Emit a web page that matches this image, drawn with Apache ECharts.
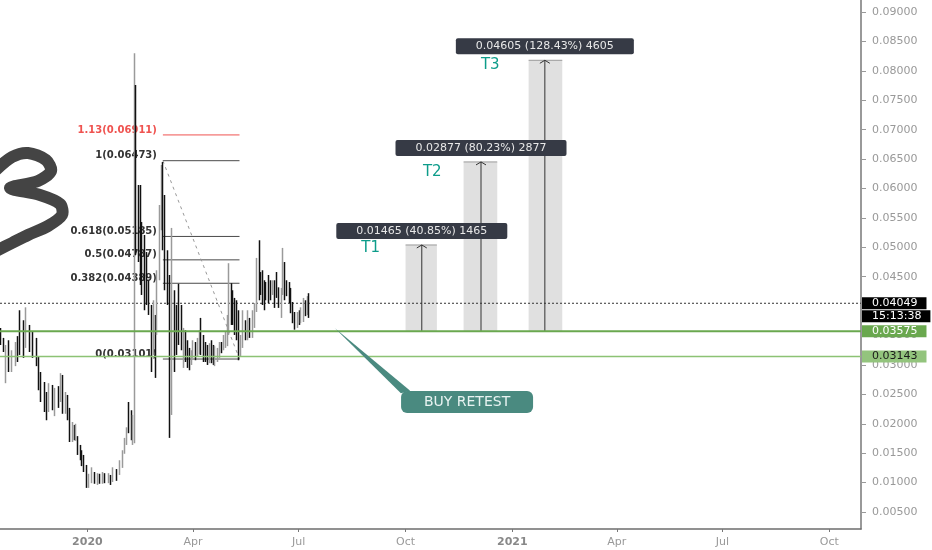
<!DOCTYPE html>
<html><head><meta charset="utf-8">
<script src="https://cdn.jsdelivr.net/npm/echarts@6/dist/echarts.min.js"></script>
<style>html,body{margin:0;padding:0;background:#fff}#c{width:932px;height:550px}</style>
</head><body><div id="c"></div>
<script>
// days since 2020-01-01, open, close, low, high
const candles = [
[-75,.0358,.0339,.0334,.0363],[-72,.0342,.0325,.0322,.0346],[-70,.0278,.0325,.0269,.0334],[-68,.0334,.0300,.0288,.0342],
[-65,.0295,.0317,.0288,.0325],[-62,.0305,.0334,.0298,.0339],[-60,.0342,.0312,.0305,.0349],[-58,.0373,.0346,.0317,.0393],
[-55,.0368,.0339,.0312,.0376],[-53,.0351,.0368,.0329,.0398],[-50,.0363,.0334,.0322,.0368],[-47,.0351,.0322,.0312,.0356],
[-44,.0342,.0305,.0298,.0346],[-42,.0312,.0266,.0257,.0315],[-40,.0283,.0244,.0237,.0288],[-37,.0266,.0223,.0220,.0271],
[-35,.0249,.0220,.0206,.0254],[-33,.0227,.0261,.0220,.0269],[-30,.0261,.0235,.0223,.0266],[-28,.0220,.0254,.0213,.0261],
[-25,.0257,.0235,.0227,.0264],[-23,.0244,.0278,.0237,.0286],[-21,.0278,.0223,.0217,.0283],[-19,.0223,.0249,.0217,.0254],
[-17,.0244,.0215,.0206,.0249],[-15,.0223,.0176,.0169,.0227],[-13,.0176,.0198,.0169,.0203],[-11,.0193,.0178,.0172,.0198],
[-10,.0176,.0193,.0171,.0200],[-8,.0176,.0152,.0147,.0179],[-6,.0159,.0142,.0138,.0164],[-5,.0152,.0132,.0128,.0155],
[-3,.0142,.0121,.0118,.0147],[-1,.0125,.0098,.0091,.0130],[1,.0096,.0108,.0091,.0115],[4,.0105,.0121,.0099,.0126],
[6,.0115,.0103,.0098,.0118],[9,.0100,.0111,.0096,.0116],[11,.0111,.0101,.0098,.0115],[13,.0103,.0115,.0098,.0118],
[15,.0113,.0103,.0099,.0116],[18,.0103,.0113,.0099,.0116],[20,.0109,.0099,.0096,.0113],[22,.0105,.0121,.0101,.0126],
[25,.0120,.0108,.0103,.0123],[28,.0118,.0133,.0113,.0138],[30,.0130,.0152,.0125,.0155],[32,.0152,.0171,.0149,.0176],
[34,.0169,.0189,.0164,.0194],[36,.0235,.0189,.0184,.0237],[38,.0215,.0178,.0172,.0223],[39,.0172,.0206,.0164,.0215],
[41,.0172,.0776,.0167,.0830],[42,.0776,.0512,.0487,.0776],[44,.0601,.0495,.0475,.0606],[46,.0563,.0487,.0436,.0606],
[47,.0538,.0427,.0419,.0543],[49,.0512,.0410,.0393,.0521],[51,.0487,.0410,.0402,.0492],[53,.0436,.0402,.0385,.0444],
[55,.0393,.0308,.0288,.0402],[57,.0325,.0359,.0317,.0410],[59,.0376,.0283,.0278,.0385],[60,.0376,.0453,.0351,.0461],
[62,.0453,.0538,.0444,.0572],[64,.0538,.0623,.0529,.0640],[65,.0640,.0512,.0495,.0645],[67,.0580,.0461,.0427,.0589],
[69,.0487,.0419,.0402,.0495],[71,.0410,.0229,.0176,.0453],[73,.0232,.0410,.0215,.0533],[75,.0410,.0325,.0288,.0427],
[77,.0393,.0334,.0317,.0402],[79,.0436,.0351,.0334,.0438],[81,.0393,.0342,.0325,.0402],[83,.0325,.0351,.0295,.0363],
[85,.0354,.0312,.0305,.0359],[86,.0334,.0300,.0295,.0342],[88,.0322,.0300,.0291,.0329],[90,.0308,.0322,.0300,.0325],
[91,.0317,.0334,.0312,.0342],[93,.0334,.0314,.0308,.0339],[95,.0322,.0339,.0315,.0346],[97,.0325,.0351,.0318,.0359],
[98,.0368,.0325,.0317,.0380],[100,.0342,.0312,.0305,.0351],[102,.0334,.0308,.0305,.0339],[104,.0325,.0305,.0300,.0334],
[105,.0308,.0330,.0303,.0337],[107,.0334,.0308,.0303,.0342],[109,.0325,.0305,.0300,.0334],[110,.0303,.0325,.0298,.0332],
[112,.0308,.0325,.0305,.0329],[114,.0317,.0334,.0312,.0339],[116,.0334,.0325,.0320,.0339],[117,.0329,.0346,.0325,.0351],
[119,.0334,.0346,.0329,.0356],[121,.0339,.0376,.0332,.0385],[122,.0363,.0436,.0351,.0473],[124,.0436,.0393,.0368,.0439],
[125,.0424,.0376,.0368,.0427],[127,.0410,.0376,.0351,.0414],[129,.0405,.0351,.0342,.0410],[130,.0351,.0312,.0308,.0393],
[132,.0322,.0346,.0315,.0351],[134,.0334,.0359,.0329,.0393],[136,.0368,.0347,.0342,.0376],[138,.0347,.0359,.0342,.0393],
[140,.0373,.0351,.0346,.0380],[142,.0351,.0368,.0346,.0393],[144,.0368,.0398,.0363,.0405],[146,.0398,.0475,.0390,.0482],
[148,.0504,.0436,.0410,.0512],[149,.0453,.0427,.0419,.0458],[151,.0453,.0410,.0402,.0461],[153,.0439,.0402,.0393,.0444],
[154,.0436,.0419,.0410,.0441],[156,.0444,.0410,.0405,.0453],[158,.0441,.0416,.0410,.0444],[160,.0427,.0439,.0419,.0444],
[161,.0441,.0402,.0397,.0444],[163,.0453,.0419,.0414,.0458],[165,.0427,.0402,.0397,.0432],[167,.0402,.0424,.0380,.0431],
[168,.0424,.0461,.0419,.0499],[170,.0461,.0419,.0410,.0475],[172,.0439,.0424,.0417,.0444],[174,.0436,.0410,.0405,.0441],
[175,.0424,.0393,.0388,.0431],[177,.0402,.0376,.0371,.0407],[179,.0385,.0365,.0360,.0390],[181,.0368,.0385,.0363,.0390],
[183,.0388,.0376,.0368,.0393],[184,.0376,.0393,.0371,.0398],[186,.0380,.0402,.0373,.0414],[188,.0405,.0390,.0383,.0410],
[190,.0390,.0410,.0385,.0417],[191,.0417,.0390,.0380,.0422]
];

const fibRatios = ['1.13','1','0.618','0.5','0.382','0'];
const fibPrices = [0.06911,0.06473,0.05185,0.04787,0.04389,0.03101];
const fibStartDay = 65, fibEndDay = 131;

const lastPrice = 0.04049, countdown = '15:13:38';
const resistance = 0.03575, support = 0.03143;

const targetNames  = ['T1','T2','T3'];
const targetTexts  = ['0.01465 (40.85%) 1465','0.02877 (80.23%) 2877','0.04605 (128.43%) 4605'];
const targetPrices = [0.0504,0.06452,0.0818];
const targetStart  = [274,324,380];
const targetEnd    = [301,353,409];
const targetMid    = [288,339,394];
const targetNameAt = [[244,0.0498],[297,0.0628],[347,0.0810]];

const calloutText = 'BUY RETEST';
const calloutAt = [327,0.0237];
const calloutShape = [[213,0.0363],[270,0.0252],[278,0.0256]];

const yTicks = [0.005,0.01,0.015,0.02,0.025,0.03,0.035,0.04,0.045,0.05,0.055,0.06,0.065,0.07,0.075,0.08,0.085,0.09];
const xTickDays = [0,91,182,274,366,456,547,639];
const xTickLabels = ['2020','Apr','Jul','Oct','2021','Apr','Jul','Oct'];
const xMin = -75.3, xMax = 666.3, yMin = 0.00211, yMax = 0.09205;

const FONT = '"DejaVu Sans", sans-serif';
const series = [];

// fib levels
fibPrices.forEach((p,i)=>{
  series.push({type:'line',z:1,silent:true,symbol:'none',
    lineStyle:{color:i===0?'#ef5350':'#4a4a4a',width:1},
    data:[[fibStartDay,p],[fibEndDay,p]]});
});
series.push({type:'line',z:1,silent:true,symbol:'none',
  lineStyle:{color:'#999',width:1,type:[3,4]},
  data:[[fibStartDay,fibPrices[1]],[fibEndDay,fibPrices[5]]]});
series.push({type:'scatter',z:1,silent:true,symbolSize:0,clip:false,itemStyle:{opacity:1},
  data:fibPrices.map((p,i)=>({value:[fibStartDay,p],label:{show:true,position:'left',distance:6,offset:[0,-5],
    formatter:fibRatios[i]+'('+p.toFixed(5)+')',fontFamily:FONT,fontSize:10,fontWeight:'bold',color:i===0?'#ef5350':'#333'}}))});

// target boxes
series.push({type:'custom',z:1,silent:true,
  data:targetPrices.map((p,i)=>[targetStart[i],targetEnd[i],targetMid[i],p,resistance]),
  encode:{x:[0,1,2],y:[3,4]},
  renderItem(params,api){
    const a=api.coord([api.value(0),api.value(3)]), b=api.coord([api.value(1),api.value(4)]);
    const mt=api.coord([api.value(2),api.value(3)]), mb=api.coord([api.value(2),api.value(4)]);
    return {type:'group',children:[
      {type:'rect',shape:{x:a[0],y:a[1],width:b[0]-a[0],height:b[1]-a[1]},style:{fill:'#e0e0e0'}},
      {type:'line',shape:{x1:a[0],y1:a[1],x2:b[0],y2:a[1]},style:{stroke:'#9a9a9a',lineWidth:1}},
      {type:'line',shape:{x1:mt[0],y1:mt[1],x2:mb[0],y2:mb[1]},style:{stroke:'#333',lineWidth:1}},
      {type:'polyline',shape:{points:[[mt[0]-5,mt[1]+3],[mt[0],mt[1]],[mt[0]+5,mt[1]+3]]},style:{stroke:'#333',fill:null,lineWidth:1}}
    ]};
  }});

// candles
series.push({type:'candlestick',z:2,silent:true,barWidth:1,clip:true,
  itemStyle:{color:'#9a9a9a',color0:'#111',borderColor:'#9a9a9a',borderColor0:'#111',borderWidth:1.5},
  data:candles});

// horizontal levels
series.push({type:'line',z:2,silent:true,symbol:'none',lineStyle:{color:'#333',width:1,type:[2,2]},data:[[xMin,lastPrice],[xMax,lastPrice]]});
series.push({type:'line',z:3,silent:true,symbol:'none',lineStyle:{color:'#6aa84f',width:2},data:[[xMin,resistance],[xMax,resistance]]});
series.push({type:'line',z:3,silent:true,symbol:'none',lineStyle:{color:'#8cc274',width:1.5},data:[[xMin,support],[xMax,support]]});

// callout pointer
series.push({type:'custom',z:4,silent:true,data:[calloutShape.flat()],encode:{x:[0,2,4],y:[1,3,5]},
  renderItem(params,api){
    const pts=[0,2,4].map(k=>api.coord([api.value(k),api.value(k+1)]));
    return {type:'polygon',shape:{points:pts},style:{fill:'#4a8a80'}};
  }});

// text marks
const tag=(v,text,bg,fg,offsetY)=>({value:[xMax,v],label:{show:true,position:'right',distance:1,offset:[0,offsetY||0],
  formatter:text,backgroundColor:bg,color:fg,fontFamily:FONT,fontSize:11,lineHeight:12,padding:[0,9,0,10]}});
const labelData=[
  tag(lastPrice,lastPrice.toFixed(5),'#000','#fff'),
  tag(lastPrice,countdown,'#000','#fff',13),
  tag(resistance,resistance.toFixed(5),'#6aa84f','#fff'),
  tag(support,support.toFixed(5),'#93c47d','#1a1a1a'),
  {value:calloutAt,label:{show:true,position:'inside',formatter:calloutText,color:'#e8f3f1',fontFamily:FONT,fontSize:14,
    backgroundColor:'#4a8a80',borderRadius:6,width:132,height:22,lineHeight:22,align:'center',verticalAlign:'middle'}}
];
targetPrices.forEach((p,i)=>{
  labelData.push({value:[targetMid[i],p],label:{show:true,position:'top',distance:6,formatter:targetTexts[i],
    color:'#e8e8e8',fontFamily:FONT,fontSize:11,lineHeight:12,backgroundColor:'#363a45',borderRadius:2,padding:[2,20]}});
  labelData.push({value:targetNameAt[i],label:{show:true,position:'inside',formatter:targetNames[i],
    color:'#0d9c8a',fontFamily:FONT,fontSize:15}});
});
series.push({type:'scatter',z:6,silent:true,symbolSize:0,clip:false,itemStyle:{opacity:1},data:labelData});

const option={
  animation:false,backgroundColor:'#fff',
  grid:{left:0,top:0,width:861,height:529},
  xAxis:{type:'value',min:xMin,max:xMax,position:'bottom',splitLine:{show:false},
    axisLine:{onZero:false,lineStyle:{color:'#6e6e6e',width:1.5}},
    axisTick:{customValues:xTickDays,length:3,lineStyle:{color:'#777'}},
    axisLabel:{customValues:xTickDays,margin:8,fontFamily:FONT,fontSize:11,color:'#999',
      formatter:v=>{const s=xTickLabels[xTickDays.indexOf(v)];return /^\d/.test(s)?'{y|'+s+'}':s;},
      rich:{y:{fontFamily:FONT,fontSize:11,fontWeight:'bold',color:'#888'}}}},
  yAxis:{type:'value',min:yMin,max:yMax,position:'right',splitLine:{show:false},
    axisLine:{show:true,onZero:false,lineStyle:{color:'#777',width:1.5}},
    axisTick:{show:true,customValues:yTicks,length:5,lineStyle:{color:'#999'}},
    axisLabel:{customValues:yTicks,margin:11,fontFamily:FONT,fontSize:11,color:'#999',padding:[2,0,0,0],formatter:v=>v.toFixed(5)}},
  graphic:[{type:'polyline',z:10,shape:{smooth:0.3,points:[[-4,170],[12,157],[28,153],[46,160],[51,171],[38,181],[10,188],[40,195],[60,204],[62,215],[48,226],[28,235],[12,243],[-4,251]]},
    style:{stroke:'#444',fill:null,lineWidth:12,lineJoin:'round'}}],
  series
};
echarts.init(document.getElementById('c')).setOption(option);
</script></body></html>
